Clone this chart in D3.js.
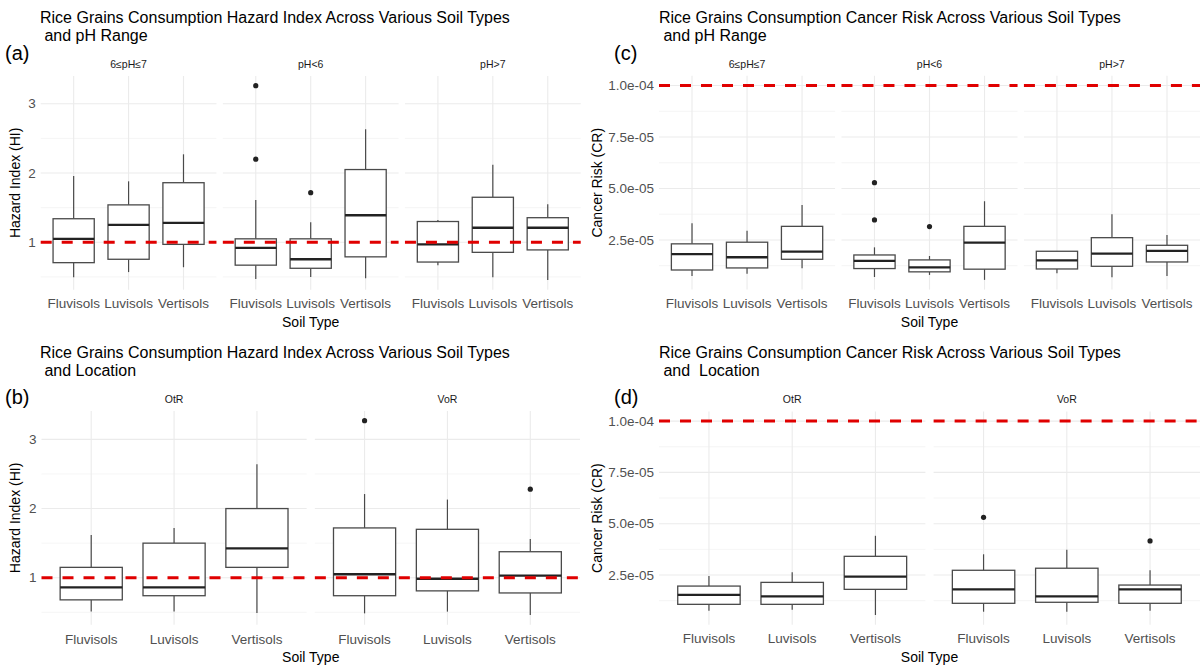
<!DOCTYPE html>
<html><head><meta charset="utf-8">
<script src="https://cdn.jsdelivr.net/npm/d3@7"></script>
<style>
html,body{margin:0;padding:0;background:#fff;}
text{font-family:"Liberation Sans",Arial,sans-serif;white-space:pre;}
</style></head>
<body><svg id="c" width="1204" height="666"></svg>
<script>
// ---------------- DATA ----------------
const soils = ["Fluvisols", "Luvisols", "Vertisols"];
const phFacets = ["6≤pH≤7", "pH<6", "pH>7"];
const locFacets = ["OtR", "VoR"];

// box stats per facet, per soil: [lower whisker, Q1, median, Q3, upper whisker]
const hiPhStats = [
  [[0.495, 0.706, 1.05, 1.34, 1.957], [0.57, 0.755, 1.25, 1.54, 1.88], [0.64, 0.97, 1.28, 1.86, 2.27]],
  [[0.47, 0.67, 0.92, 1.05, 1.61], [0.50, 0.625, 0.755, 1.05, 1.29], [0.48, 0.79, 1.39, 2.05, 2.63]],
  [[0.67, 0.715, 0.97, 1.30, 1.32], [0.495, 0.855, 1.21, 1.65, 2.12], [0.456, 0.89, 1.21, 1.355, 1.55]]
];
const hiPhOutliers = [[[], [], []], [[2.20, 3.26], [1.716], []], [[], [], []]];

const hiLocStats = [
  [[0.51, 0.68, 0.86, 1.15, 1.617], [0.51, 0.74, 0.86, 1.50, 1.72], [0.49, 1.15, 1.425, 2.00, 2.64]],
  [[0.485, 0.74, 1.05, 1.72, 2.21], [0.51, 0.81, 0.985, 1.70, 2.13], [0.46, 0.78, 1.03, 1.376, 1.56]]
];
const hiLocOutliers = [[[], [], []], [[3.27], [], [2.28]]];

const crPhStats = [
  [[7.5e-6, 10.4e-6, 18.1e-6, 23.1e-6, 33.1e-6], [8.6e-6, 11.4e-6, 16.6e-6, 23.9e-6, 29.5e-6], [11.3e-6, 15.6e-6, 19.3e-6, 31.6e-6, 42.0e-6]],
  [[7.0e-6, 11.1e-6, 14.8e-6, 17.7e-6, 21.4e-6], [8.0e-6, 9.5e-6, 11.7e-6, 15.3e-6, 17.2e-6], [5.6e-6, 10.8e-6, 23.7e-6, 31.6e-6, 43.8e-6]],
  [[8.8e-6, 10.9e-6, 15.1e-6, 19.5e-6, 19.5e-6], [6.9e-6, 12.2e-6, 18.4e-6, 26.1e-6, 37.5e-6], [7.5e-6, 14.3e-6, 19.7e-6, 22.4e-6, 27.4e-6]]
];
const crPhOutliers = [[[], [], []], [[34.7e-6, 52.8e-6], [31.5e-6], []], [[], [], []]];

const crLocStats = [
  [[7.6e-6, 10.7e-6, 15.3e-6, 19.6e-6, 24.5e-6], [8.0e-6, 10.7e-6, 14.6e-6, 21.4e-6, 26.3e-6], [5.5e-6, 18.0e-6, 24.2e-6, 34.1e-6, 44.1e-6]],
  [[7.1e-6, 11.2e-6, 18.0e-6, 27.3e-6, 35.1e-6], [7.1e-6, 11.7e-6, 14.6e-6, 28.3e-6, 37.3e-6], [7.6e-6, 11.2e-6, 18.0e-6, 20.1e-6, 27.3e-6]]
];
const crLocOutliers = [[[], [], []], [[53.1e-6], [], [41.6e-6]]];

const hiTicks = [1, 2, 3];
const hiMinor = [0.5, 1.5, 2.5, 3.5];
const hiTickLabels = ["1", "2", "3"];
const crTicks = [2.5e-5, 5.0e-5, 7.5e-5, 1.0e-4];
const crMinor = [0, 1.25e-5, 3.75e-5, 6.25e-5, 8.75e-5];
const crTickLabels = ["2.5e-05", "5.0e-05", "7.5e-05", "1.0e-04"];
const hiThreshold = 1;
const crThreshold = 1e-4;

// ---------------- DRAWING ----------------
const svg = d3.select("#c");

function drawChart(o) {
  const g = svg.append("g");
  // titles
  g.append("text").attr("x", o.titleX).attr("y", o.titleY).attr("font-size", 16).attr("fill", "#000").text(o.title1);
  g.append("text").attr("x", o.titleX).attr("y", o.titleY + 18).attr("font-size", 16).attr("fill", "#000").text(o.title2);
  g.append("text").attr("x", o.tagX).attr("y", o.tagY).attr("font-size", 20).attr("fill", "#000").text(o.tag);

  // y scale with ggplot-like 5% expansion, including the threshold line
  const allVals = [];
  o.stats.forEach((f, i) => f.forEach((s, j) => { allVals.push(...s); allVals.push(...o.outliers[i][j]); }));
  allVals.push(o.threshold);
  const [mn, mx] = d3.extent(allVals);
  const pad = (mx - mn) * 0.05;
  const y = d3.scaleLinear().domain([mn - pad, mx + pad]).range([o.yBot, o.yTop]);

  const panels = d3.scaleBand().domain(o.facets).range([o.x0, o.x1]).paddingInner(o.gapRatio);

  // y tick labels
  g.append("g").selectAll("text").data(o.ticks).join("text")
    .attr("x", o.x0 - 5).attr("y", d => y(d)).attr("dy", "0.35em")
    .attr("text-anchor", "end").attr("font-size", 13.5).attr("fill", "#505050")
    .text((d, i) => o.tickLabels[i]);

  // y axis title
  g.append("text").attr("transform", `translate(${o.yTitleX},${(o.yTop + o.yBot) / 2}) rotate(-90)`)
    .attr("text-anchor", "middle").attr("font-size", 14).attr("fill", "#000").text(o.yTitle);

  // x axis title
  g.append("text").attr("x", (o.x0 + o.x1) / 2).attr("y", o.yBot + 37)
    .attr("text-anchor", "middle").attr("font-size", 14).attr("fill", "#000").text("Soil Type");

  o.facets.forEach((fac, fi) => {
    const px0 = panels(fac), pw = panels.bandwidth();
    const x = d3.scalePoint().domain(soils).range([px0, px0 + pw]).padding(0.6);
    const bw = x.step() * 0.75;
    const pg = g.append("g");
    // strip label
    pg.append("text").attr("x", px0 + pw / 2).attr("y", o.yTop - 8).attr("text-anchor", "middle")
      .attr("font-size", 10.5).attr("fill", "#1a1a1a").text(fac);
    // minor grid
    pg.selectAll(".mn").data(o.minor.filter(v => v >= y.domain()[0] && v <= y.domain()[1])).join("line")
      .attr("x1", px0).attr("x2", px0 + pw).attr("y1", d => y(d)).attr("y2", d => y(d))
      .attr("stroke", "#f2f2f2").attr("stroke-width", 0.8);
    // major grid
    pg.selectAll(".mj").data(o.ticks).join("line")
      .attr("x1", px0).attr("x2", px0 + pw).attr("y1", d => y(d)).attr("y2", d => y(d))
      .attr("stroke", "#ebebeb").attr("stroke-width", 1.1);
    pg.selectAll(".vg").data(soils).join("line")
      .attr("x1", d => x(d)).attr("x2", d => x(d)).attr("y1", o.yTop).attr("y2", o.yBot)
      .attr("stroke", "#ebebeb").attr("stroke-width", 1.1);
    // x tick labels
    pg.selectAll(".xl").data(soils).join("text")
      .attr("x", d => x(d)).attr("y", o.yBot + 14).attr("dy", "0.35em").attr("text-anchor", "middle")
      .attr("font-size", 13.5).attr("fill", "#505050").text(d => d);

    // boxes
    soils.forEach((s, si) => {
      const st = o.stats[fi][si];
      const cx = x(s);
      pg.append("line").attr("x1", cx).attr("x2", cx).attr("y1", y(st[3])).attr("y2", y(st[4]))
        .attr("stroke", "#4a4a4a").attr("stroke-width", 1.2);
      pg.append("line").attr("x1", cx).attr("x2", cx).attr("y1", y(st[1])).attr("y2", y(st[0]))
        .attr("stroke", "#4a4a4a").attr("stroke-width", 1.2);
      pg.append("rect").attr("x", cx - bw / 2).attr("width", bw)
        .attr("y", y(st[3])).attr("height", y(st[1]) - y(st[3]))
        .attr("fill", "#fff").attr("stroke", "#4a4a4a").attr("stroke-width", 1.3);
      pg.append("line").attr("x1", cx - bw / 2).attr("x2", cx + bw / 2).attr("y1", y(st[2])).attr("y2", y(st[2]))
        .attr("stroke", "#222").attr("stroke-width", 2.3);
      pg.selectAll(null).data(o.outliers[fi][si]).join("circle")
        .attr("cx", cx).attr("cy", d => y(d)).attr("r", 2.6).attr("fill", "#222");
    });
    // threshold line
    pg.append("line").attr("x1", px0).attr("x2", px0 + pw).attr("y1", y(o.threshold)).attr("y2", y(o.threshold))
      .attr("stroke", "#e00000").attr("stroke-width", 3).attr("stroke-dasharray", "11,10");
  });
}

drawChart({
  title1: "Rice Grains Consumption Hazard Index Across Various Soil Types", title2: " and pH Range",
  titleX: 40, titleY: 23, tag: "(a)", tagX: 5, tagY: 60,
  stats: hiPhStats, outliers: hiPhOutliers, facets: phFacets, threshold: hiThreshold,
  ticks: hiTicks, minor: hiMinor, tickLabels: hiTickLabels, yTitle: "Hazard Index (HI)", yTitleX: 20,
  x0: 40.7, x1: 580.7, yTop: 76, yBot: 289.7, gapRatio: 0.035
});
drawChart({
  title1: "Rice Grains Consumption Cancer Risk Across Various Soil Types", title2: " and pH Range",
  titleX: 659, titleY: 23, tag: "(c)", tagX: 614, tagY: 60,
  stats: crPhStats, outliers: crPhOutliers, facets: phFacets, threshold: crThreshold,
  ticks: crTicks, minor: crMinor, tickLabels: crTickLabels, yTitle: "Cancer Risk (CR)", yTitleX: 602,
  x0: 659, x1: 1200, yTop: 75.8, yBot: 289.6, gapRatio: 0.035
});
drawChart({
  title1: "Rice Grains Consumption Hazard Index Across Various Soil Types", title2: " and Location",
  titleX: 40, titleY: 358, tag: "(b)", tagX: 5, tagY: 404,
  stats: hiLocStats, outliers: hiLocOutliers, facets: locFacets, threshold: hiThreshold,
  ticks: hiTicks, minor: hiMinor, tickLabels: hiTickLabels, yTitle: "Hazard Index (HI)", yTitleX: 20,
  x0: 41.5, x1: 580, yTop: 411, yBot: 624.8, gapRatio: 0.03
});
drawChart({
  title1: "Rice Grains Consumption Cancer Risk Across Various Soil Types", title2: " and  Location",
  titleX: 659, titleY: 358, tag: "(d)", tagX: 614, tagY: 404,
  stats: crLocStats, outliers: crLocOutliers, facets: locFacets, threshold: crThreshold,
  ticks: crTicks, minor: crMinor, tickLabels: crTickLabels, yTitle: "Cancer Risk (CR)", yTitleX: 602,
  x0: 659, x1: 1200, yTop: 411.4, yBot: 624.7, gapRatio: 0.03
});
</script></body></html>
